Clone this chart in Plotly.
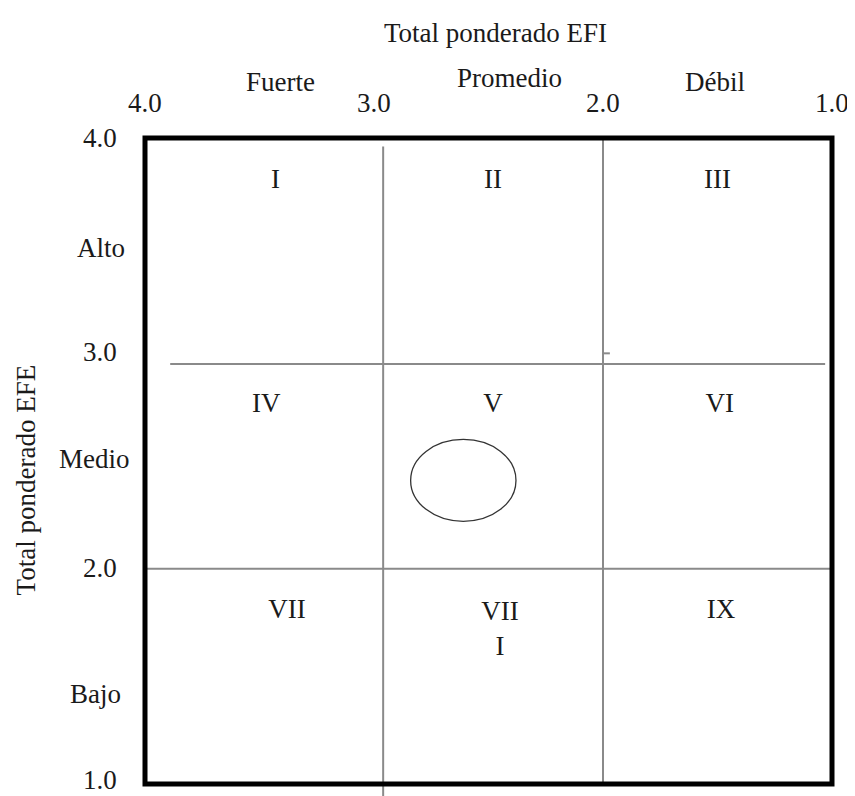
import plotly.graph_objects as go

# ---- data ----
efi_ticks = [4.0, 3.0, 2.0, 1.0]
efe_ticks = [4.0, 3.0, 2.0, 1.0]
tick_labels = ["4.0", "3.0", "2.0", "1.0"]
efi_levels = ["Fuerte", "Promedio", "Débil"]
efi_level_pos = [3.41, 2.41, 1.51]
efe_levels = ["Alto", "Medio", "Bajo"]
efe_level_pos = [3.49, 2.51, 1.42]
cell_labels = ["I", "II", "III", "IV", "V", "VI", "VII", "VII<br>I", "IX"]
cell_x = [3.43, 2.48, 1.50, 3.47, 2.48, 1.49, 3.38, 2.45, 1.485]
cell_y = [3.80, 3.80, 3.80, 2.76, 2.76, 2.76, 1.80, 1.71, 1.80]
divider_x = [2.96, 2.0]
divider_y = [2.95, 2.0]
company_efi = 2.61
company_efe = 2.41
company_rx = 0.23
company_ry = 0.19

X_RANGE = [4.0, 1.0]
Y_RANGE = [1.0, 4.0]
FONT = "Liberation Serif, Times New Roman, serif"
TXT = "#1a1a1a"
GRAY = "#8a8a8a"
FS = 27


def xp(v):
    return (X_RANGE[0] - v) / (X_RANGE[0] - X_RANGE[1])


def yp(v):
    return (v - Y_RANGE[0]) / (Y_RANGE[1] - Y_RANGE[0])


fig = go.Figure()
fig.add_trace(go.Scatter(
    x=cell_x, y=cell_y, text=cell_labels, mode="text",
    textfont=dict(family=FONT, size=FS, color=TXT),
    hoverinfo="skip", showlegend=False,
))

shapes = []
# vertical divider 1 (extends below the frame)
shapes.append(dict(type="line", xref="paper", yref="paper",
                   x0=xp(divider_x[0]), x1=xp(divider_x[0]),
                   y0=-0.03, y1=yp(3.96),
                   line=dict(color=GRAY, width=2)))
# vertical divider 2
shapes.append(dict(type="line", xref="paper", yref="paper",
                   x0=xp(divider_x[1]), x1=xp(divider_x[1]),
                   y0=0.0, y1=1.0,
                   line=dict(color=GRAY, width=2)))
shapes.append(dict(type="line", xref="paper", yref="paper",
                   x0=xp(divider_x[1]), x1=xp(divider_x[1] - 0.03),
                   y0=yp(3.0), y1=yp(3.0),
                   line=dict(color=GRAY, width=2)))
# horizontal divider 1
shapes.append(dict(type="line", xref="x", yref="y",
                   x0=3.89, x1=1.03, y0=divider_y[0], y1=divider_y[0],
                   line=dict(color=GRAY, width=2)))
# horizontal divider 2
shapes.append(dict(type="line", xref="paper", yref="y",
                   x0=0, x1=1, y0=divider_y[1], y1=divider_y[1],
                   line=dict(color=GRAY, width=2)))
# company position ellipse
shapes.append(dict(type="circle", xref="x", yref="y",
                   x0=company_efi + company_rx, x1=company_efi - company_rx,
                   y0=company_efe - company_ry, y1=company_efe + company_ry,
                   line=dict(color="#333333", width=1.3)))
# outer frame
shapes.append(dict(type="rect", xref="paper", yref="paper",
                   x0=0, x1=1, y0=0, y1=1,
                   line=dict(color="black", width=5)))

ann = []
font = dict(family=FONT, size=FS, color=TXT)
for v, t in zip(efi_ticks, tick_labels):
    ann.append(dict(x=v, xref="x", y=1, yref="paper", text=t, showarrow=False,
                    xanchor="center", yanchor="middle", yshift=35, font=font))
for v, t, s in zip(efe_ticks, tick_labels, [0, 1, 1, 4]):
    ann.append(dict(x=0, xref="paper", y=v, yref="y", text=t, showarrow=False,
                    xanchor="right", yanchor="middle", xshift=-26, yshift=s,
                    font=font))
for v, t, s in zip(efi_level_pos, efi_levels, [56, 60, 56]):
    ann.append(dict(x=v, xref="x", y=1, yref="paper", text=t, showarrow=False,
                    xanchor="center", yanchor="middle", yshift=s, font=font))
for v, t, s in zip(efe_level_pos, efe_levels, [-44, -51, -50]):
    ann.append(dict(x=0, xref="paper", y=v, yref="y", text=t, showarrow=False,
                    xanchor="center", yanchor="middle", xshift=s, font=font))
ann.append(dict(x=0.51, xref="paper", y=1, yref="paper", text="Total ponderado EFI",
                showarrow=False, xanchor="center", yanchor="middle", yshift=105,
                font=font))
ann.append(dict(x=0, xref="paper", y=0.47, yref="paper", text="Total ponderado EFE",
                showarrow=False, xanchor="center", yanchor="middle", xshift=-119,
                textangle=-90, font=font))

# page body has an 8px default margin, so the figure is offset by (8, 8)
fig.update_layout(
    width=855, height=796,
    margin=dict(l=136.5, r=31, t=129.5, b=20),
    paper_bgcolor="white", plot_bgcolor="white",
    xaxis=dict(range=X_RANGE, visible=False, fixedrange=True),
    yaxis=dict(range=Y_RANGE, visible=False, fixedrange=True),
    shapes=shapes, annotations=ann, showlegend=False,
)

fig.write_html("out.html")
